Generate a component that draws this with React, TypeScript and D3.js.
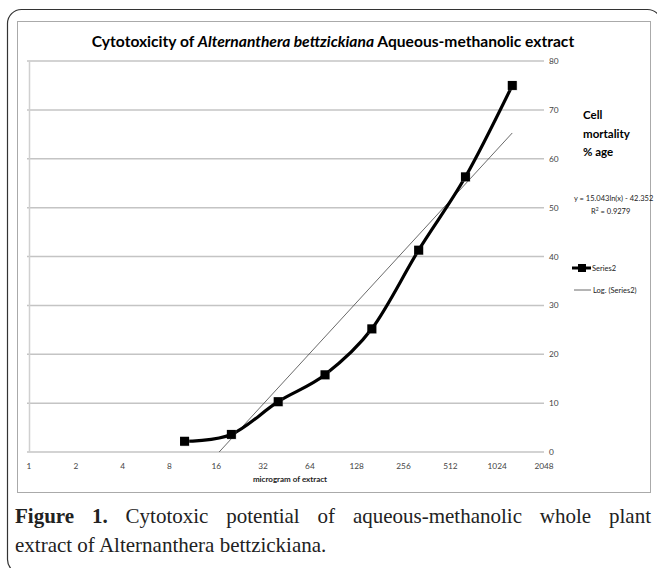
import React, { useEffect, useRef } from "react";
import * as d3 from "d3";

// dose in microgram of extract vs cell mortality %
const doses = [10, 20, 40, 80, 160, 320, 640, 1280];
const mortality = [2.2, 3.6, 10.3, 15.8, 25.2, 41.3, 56.3, 75.0];
const xTicks = [1, 2, 4, 8, 16, 32, 64, 128, 256, 512, 1024, 2048];
const yTicks = [0, 10, 20, 30, 40, 50, 60, 70, 80];
// log trendline from the picture: y = 15.043 ln(x) - 42.352
const trendA = 15.043;
const trendB = -42.352;

const W = 657;
const H = 568;
const chartFont = "Lato, 'Open Sans', sans-serif";
const serif = "'Liberation Serif', 'DejaVu Serif', serif";

const App = () => {
  const captionRef = useRef<SVGTextElement>(null);

  // justify first caption line by spreading the word gaps
  useEffect(() => {
    const el = captionRef.current;
    if (!el) return;
    el.style.wordSpacing = "0px";
    const len = el.getComputedTextLength();
    const gaps = 7;
    el.style.wordSpacing = `${Math.max(0, (636 - len) / gaps)}px`;
  }, []);

  const x = d3.scaleLog().base(2).domain([1, 2048]).range([29, 544]);
  const y = d3.scaleLinear().domain([0, 80]).range([452, 61]);

  const pts: [number, number][] = doses.map((d, i) => [x(d), y(mortality[i])]);
  const dataLine = d3.line().curve(d3.curveCardinal.tension(0))(pts) || "";

  const trendEnds = [doses[0], doses[doses.length - 1]];
  const trendLine =
    d3.line()(trendEnds.map((d) => [x(d), y(trendA * Math.log(d) + trendB)] as [number, number])) || "";

  return (
    <svg width={W} height={H} style={{ position: "absolute", left: 0, top: 0, background: "#fff" }}>
      <defs>
        <clipPath id="plot">
          <rect x={29} y={61} width={515} height={391} />
        </clipPath>
      </defs>

      {/* outer rounded frame, runs off the page */}
      <rect x={7.5} y={9.5} width={654} height={564} rx={14} fill="none" stroke="#333" strokeWidth={1.2} />
      {/* chart area border */}
      <rect x={17.5} y={21.5} width={633} height={471} fill="#fff" stroke="#aaa" strokeWidth={1} />

      {/* title */}
      <text x={333} y={47} textAnchor="middle" fontFamily={chartFont} fontWeight="bold" fontSize={15.6} fill="#000">
        Cytotoxicity of <tspan fontStyle="italic">Alternanthera bettzickiana</tspan> Aqueous-methanolic extract
      </text>

      {/* gridlines */}
      {yTicks.map((t) => (
        <line key={t} x1={27} x2={544} y1={y(t)} y2={y(t)} stroke="#c4c4c4" strokeWidth={1.5} />
      ))}
      <line x1={29.5} x2={29.5} y1={61} y2={452} stroke="#d0d0d0" strokeWidth={1.5} />

      {/* y tick labels on right */}
      {yTicks.map((t) => (
        <text key={t} x={549} y={y(t) + 3} fontFamily={chartFont} fontSize={8.3} fill="#444">
          {t}
        </text>
      ))}

      {/* x tick labels */}
      {xTicks.map((t) => (
        <text key={t} x={x(t)} y={469} textAnchor="middle" fontFamily={chartFont} fontSize={8.3} fill="#444">
          {t}
        </text>
      ))}
      <text x={290} y={482} textAnchor="middle" fontFamily={chartFont} fontWeight="bold" fontSize={8} fill="#222">
        microgram of extract
      </text>

      {/* trendline */}
      <path d={trendLine} clipPath="url(#plot)" fill="none" stroke="#444" strokeWidth={0.8} />

      {/* data series */}
      <path d={dataLine} fill="none" stroke="#000" strokeWidth={3.2} strokeLinejoin="round" />
      {pts.map(([px, py], i) => (
        <g key={i}>
          <rect x={px - 4} y={py - 4} width={9} height={9} fill="#999" opacity={0.5} />
          <rect x={px - 4.5} y={py - 4.5} width={9} height={9} fill="#000" />
        </g>
      ))}

      {/* y axis title */}
      <g fontFamily={chartFont} fontWeight="bold" fontSize={11.5} fill="#000">
        <text x={583} y={119}>Cell</text>
        <text x={583} y={138}>mortality</text>
        <text x={583} y={156}>% age</text>
      </g>

      {/* equation */}
      <text x={574} y={201} fontFamily={chartFont} fontSize={7.5} fill="#222">
        y = 15.043ln(x) - 42.352
      </text>
      <text x={591} y={214} fontFamily={chartFont} fontSize={7.5} fill="#222">
        R<tspan fontSize={5} dy={-3}>2</tspan>
        <tspan dy={3}> = 0.9279</tspan>
      </text>

      {/* legend */}
      <line x1={572} x2={591} y1={268} y2={268} stroke="#000" strokeWidth={3} />
      <rect x={578} y={264} width={8} height={8} fill="#000" />
      <text x={592} y={271} fontFamily={chartFont} fontSize={7.5} fill="#222">
        Series2
      </text>
      <line x1={574} x2={591} y1={290} y2={290} stroke="#444" strokeWidth={0.8} />
      <text x={593} y={293} fontFamily={chartFont} fontSize={7.5} fill="#222">
        Log. (Series2)
      </text>

      {/* caption */}
      <text ref={captionRef} x={15} y={523} fontFamily={serif} fontSize={21} fill="#222">
        <tspan fontWeight="bold">Figure 1.</tspan> Cytotoxic potential of aqueous-methanolic whole plant
      </text>
      <text x={15} y={552} fontFamily={serif} fontSize={21} fill="#222">
        extract of Alternanthera bettzickiana.
      </text>
    </svg>
  );
};

export default App;
